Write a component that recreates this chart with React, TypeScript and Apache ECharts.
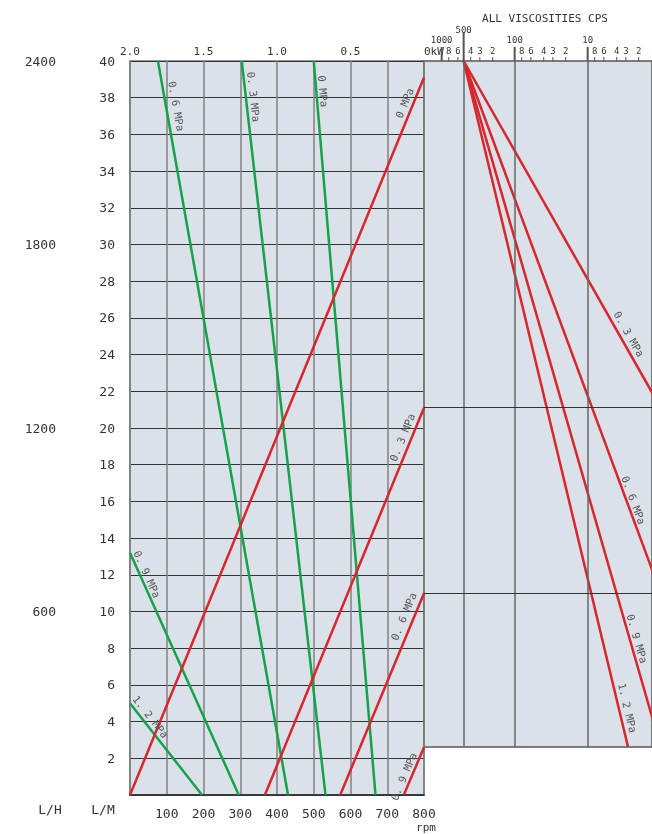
import React, { useEffect, useRef } from 'react';
import * as echarts from 'echarts';

const FONT = "'DejaVu Sans Mono', monospace";
const RED = '#d8262e';
const GREEN = '#15a24a';
const PANEL_BG = '#dbe1e8';

// Left panel axes
const rpmMax = 800;
const rpmInterval = 100;
const kwMax = 2;
const kwInterval = 0.5;
const flowMax = 40;
const flowInterval = 2;
const lhMax = 2400;
const lhInterval = 600;

// Red lines: flow (L/M) vs rpm, per pressure
const redPressures = ['0', '0.3', '0.6', '0.9'];
const redStartRpm = [0, 367, 572, 745];
const redEndFlow = [39.1, 21.1, 11.0, 2.6];
const redLabelT = [0.96, 0.915, 0.866, 0.33];
const redLabelOff = [8.5, 9, 10, 7.5];

// Green lines: flow (L/M) vs power (kW), per pressure
const greenPressures = ['0', '0.3', '0.6', '0.9', '1.2'];
const greenStart = [[0.75, 40], [1.24, 40], [1.81, 40], [2.0, 13.2], [2.0, 5.0]];
const greenEndKw = [0.33, 0.67, 0.925, 1.26, 1.51];
const greenLabelT = [0.042, 0.05, 0.064, 0.1, 0.2];
const greenLabelOff = [7, 8, 10.5, 7, 8];

// Right panel: viscosity (cps, log) vs flow
const viscOrigin = 500;
const viscOriginFlow = 40;
const viscPressures = ['0.3', '0.6', '0.9', '1.2'];
const viscEnd = [[1, 21.1], [1, 11.0], [1, 2.6], [2.8, 2.6]];
const viscLabelT = [0.8, 0.83, 0.845, 0.946];
const viscLabelOff = [9, 7, 7.5, 8.8];
const viscMajorTicks = [1000, 100, 10];
const viscMidTicks = [500];
const viscMinorTicks = [800, 600, 400, 300, 200, 80, 60, 40, 30, 20, 8, 6, 4, 3, 2];
const viscGridLines = [500, 100, 10];
const viscFlowLines = [21.1, 11.0];
const viscMin = 1.315;
const viscMax = 1746;
const viscPanelMinFlow = 2.6;

const mpa = (p: string) => (p === '0' ? '0 MPa' : p.replace('.', '. ') + ' MPa');
const lg = (v: number) => Math.log10(v);

function labelSeries(lines: number[][][], ts: number[], offs: number[], texts: string[], xi: number, yi: number) {
  return {
    type: 'custom',
    xAxisIndex: xi,
    yAxisIndex: yi,
    clip: false,
    silent: true,
    z: 5,
    data: lines.map((l) => l[0]),
    renderItem: (params: any, api: any) => {
      const i = params.dataIndex;
      const p1 = api.coord(lines[i][0]);
      const p2 = api.coord(lines[i][1]);
      const dx = p2[0] - p1[0];
      const dy = p2[1] - p1[1];
      const len = Math.hypot(dx, dy);
      const ux = dx / len;
      const uy = dy / len;
      const nx = uy;
      const ny = -ux;
      const cx = p1[0] + dx * ts[i] + nx * offs[i];
      const cy = p1[1] + dy * ts[i] + ny * offs[i];
      return {
        type: 'text',
        x: cx,
        y: cy,
        rotation: Math.atan2(-dy, dx),
        style: {
          text: texts[i],
          fill: '#555',
          fontSize: 10.5,
          fontFamily: FONT,
          align: 'center',
          verticalAlign: 'middle',
        },
      };
    },
  };
}

export default function App() {
  const ref = useRef<HTMLDivElement>(null);
  useEffect(() => {
    if (!ref.current) return;
    const chart = echarts.init(ref.current, undefined, { renderer: 'svg' });

    const redLines = redPressures.map((_, i) => [[redStartRpm[i], 0], [rpmMax, redEndFlow[i]]]);
    const greenLines = greenPressures.map((_, i) => [greenStart[i], [greenEndKw[i], 0]]);
    const viscLines = viscPressures.map((_, i) => [[lg(viscOrigin), viscOriginFlow], [lg(viscEnd[i][0]), viscEnd[i][1]]]);

    const tickItems = [
      ...viscMajorTicks.map((v) => ({ v, kind: 'major' })),
      ...viscMidTicks.map((v) => ({ v, kind: 'mid' })),
      ...viscMinorTicks.map((v) => ({ v, kind: 'minor' })),
    ];

    const labelStyle = { fontFamily: FONT, fontSize: 13, color: '#333' };

    const series: any[] = [];
    series.push({
      type: 'line',
      xAxisIndex: 2,
      yAxisIndex: 2,
      data: [[lg(viscOrigin), viscOriginFlow]],
      symbol: 'none',
      showSymbol: false,
      lineStyle: { width: 0 },
      silent: true,
      markLine: {
        silent: true,
        symbol: ['none', 'none'],
        label: { show: false },
        data: [
          ...viscGridLines.map((v) => ({ xAxis: lg(v), lineStyle: { color: '#666', width: 1.5, type: 'solid' } })),
          ...viscFlowLines.map((f) => ({ yAxis: f, lineStyle: { color: '#333', width: 1.2, type: 'solid' } })),
        ],
      },
    });
    greenLines.forEach((d) =>
      series.push({ type: 'line', xAxisIndex: 1, yAxisIndex: 0, data: d, symbol: 'none', lineStyle: { color: GREEN, width: 2.5 }, silent: true })
    );
    redLines.forEach((d) =>
      series.push({ type: 'line', xAxisIndex: 0, yAxisIndex: 0, data: d, symbol: 'none', lineStyle: { color: RED, width: 2.5 }, silent: true })
    );
    viscLines.forEach((d) =>
      series.push({ type: 'line', xAxisIndex: 2, yAxisIndex: 2, data: d, symbol: 'none', lineStyle: { color: RED, width: 2.5 }, silent: true })
    );
    series.push(labelSeries(greenLines, greenLabelT, greenLabelOff, greenPressures.map(mpa), 1, 0));
    series.push(labelSeries(redLines, redLabelT, redLabelOff, redPressures.map(mpa), 0, 0));
    series.push(labelSeries(viscLines, viscLabelT, viscLabelOff, viscPressures.map(mpa), 2, 2));
    series.push({
      type: 'custom',
      xAxisIndex: 2,
      yAxisIndex: 2,
      clip: false,
      silent: true,
      data: tickItems.map((t) => [lg(t.v), viscOriginFlow]),
      renderItem: (params: any, api: any) => {
        const it = tickItems[params.dataIndex];
        const p = api.coord([api.value(0), api.value(1)]);
        const len = it.kind === 'major' ? 14 : it.kind === 'mid' ? 28 : 4;
        const ly = it.kind === 'major' ? p[1] - 21 : it.kind === 'mid' ? p[1] - 31 : p[1] - 10;
        const txt = it.kind === 'minor' ? String(Math.round(it.v / Math.pow(10, Math.floor(lg(it.v) + 1e-9)))) : String(it.v);
        return {
          type: 'group',
          children: [
            {
              type: 'line',
              shape: { x1: p[0], y1: p[1] - len, x2: p[0], y2: p[1] },
              style: { stroke: '#555', lineWidth: it.kind === 'minor' ? 1 : 2 },
            },
            {
              type: 'text',
              x: p[0],
              y: ly,
              style: { text: txt, fill: '#333', fontSize: 9, fontFamily: FONT, align: 'center', verticalAlign: 'middle' },
            },
          ],
        };
      },
    });

    chart.setOption({
      animation: false,
      grid: [
        { left: 130, top: 61, width: 294, height: 734, show: true, backgroundColor: PANEL_BG, borderColor: '#777', borderWidth: 1.5 },
        { left: 424, top: 61, width: 228, height: 686, show: true, backgroundColor: PANEL_BG, borderColor: '#555', borderWidth: 1.5 },
      ],
      xAxis: [
        {
          gridIndex: 0,
          type: 'value',
          position: 'bottom',
          min: 0,
          max: rpmMax,
          interval: rpmInterval,
          axisLine: { show: true, lineStyle: { color: '#444', width: 1.5 } },
          axisTick: { show: false },
          axisLabel: { ...labelStyle, showMinLabel: false, margin: 12 },
          splitLine: { show: true, lineStyle: { color: '#808080', width: 1.5 } },
        },
        {
          gridIndex: 0,
          type: 'value',
          position: 'top',
          min: 0,
          max: kwMax,
          interval: kwInterval,
          inverse: true,
          axisLine: { show: true, lineStyle: { color: '#333', width: 1.5 } },
          axisTick: { show: false },
          splitLine: { show: false },
          axisLabel: {
            ...labelStyle,
            fontSize: 11,
            margin: 4,
            alignMinLabel: 'left',
            formatter: (v: number) => (v === 0 ? '0kW' : v.toFixed(1)),
          },
        },
        {
          gridIndex: 1,
          type: 'value',
          min: lg(viscMin),
          max: lg(viscMax),
          inverse: true,
          show: false,
        },
      ],
      yAxis: [
        {
          gridIndex: 0,
          type: 'value',
          min: 0,
          max: flowMax,
          interval: flowInterval,
          axisLine: { show: true, lineStyle: { color: '#808080', width: 1.5 } },
          axisTick: { show: false },
          axisLabel: { ...labelStyle, showMinLabel: false, margin: 15 },
          splitLine: { show: true, lineStyle: { color: '#333', width: 1.2 } },
        },
        {
          gridIndex: 0,
          type: 'value',
          position: 'left',
          offset: 66,
          min: 0,
          max: lhMax,
          interval: lhInterval,
          axisLine: { show: false },
          axisTick: { show: false },
          splitLine: { show: false },
          axisLabel: { ...labelStyle, showMinLabel: false, margin: 8, formatter: (v: number) => String(v) },
        },
        {
          gridIndex: 1,
          type: 'value',
          min: viscPanelMinFlow,
          max: flowMax,
          show: false,
        },
      ],
      graphic: [
        { type: 'text', x: 545, y: 18, style: { text: 'ALL VISCOSITIES CPS', fontSize: 11, fontFamily: FONT, fill: '#333', align: 'center', verticalAlign: 'middle' } },
        { type: 'text', x: 50, y: 809, style: { text: 'L/H', fontSize: 13, fontFamily: FONT, fill: '#333', align: 'center', verticalAlign: 'middle' } },
        { type: 'text', x: 103, y: 809, style: { text: 'L/M', fontSize: 13, fontFamily: FONT, fill: '#333', align: 'center', verticalAlign: 'middle' } },
        { type: 'text', x: 426, y: 822, style: { text: 'rpm', fontSize: 11, fontFamily: FONT, fill: '#333', align: 'center', verticalAlign: 'top' } },
      ],
      series,
    });
    return () => chart.dispose();
  }, []);
  return <div ref={ref} style={{ position: 'fixed', left: 0, top: 0, width: 652, height: 834 }} />;
}
